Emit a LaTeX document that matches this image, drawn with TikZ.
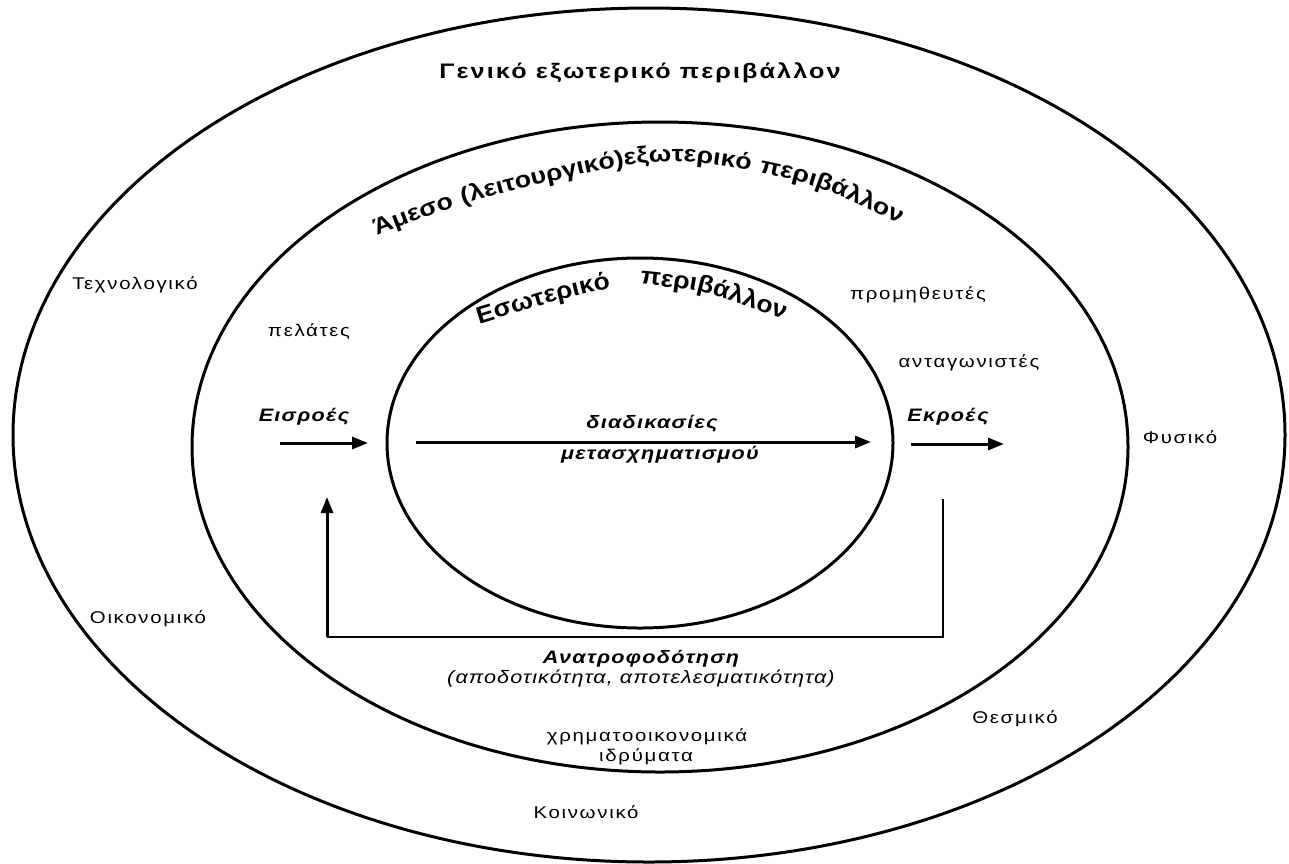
\documentclass[tikz,border=0pt]{standalone}
\usepackage{fontspec}
\setmainfont{Liberation Sans}
\newfontfamily\lblfont[FakeStretch=1.2, LetterSpace=10]{Liberation Sans}
\newfontfamily\bifont[FakeStretch=1.2, LetterSpace=7]{Liberation Sans}
\newfontfamily\itfont[FakeStretch=1.2, LetterSpace=6]{Liberation Sans}
\newfontfamily\gfont[FakeStretch=1.2, LetterSpace=10]{Liberation Sans}
\newfontfamily\arcfont[FakeStretch=1.1, LetterSpace=3]{Liberation Sans}
\newfontfamily\midarcfont[FakeStretch=1.16, LetterSpace=6]{Liberation Sans}
\usetikzlibrary{shapes.geometric,arrows.meta,decorations.text}
\tikzset{
  ring/.style={ellipse, draw, line width=3pt, inner sep=0pt},
  lbl/.style={font=\lblfont\fontsize{17}{20}\selectfont, inner sep=0pt, anchor=base},
  blbl/.style={font=\bifont\bfseries\itshape\fontsize{18}{21}\selectfont, inner sep=0pt, anchor=base},
  ilbl/.style={font=\itfont\itshape\fontsize{18}{21}\selectfont, inner sep=0pt, anchor=base},
  flow/.style={line width=3pt, -{Triangle[length=16pt,width=12pt]}},
  fbline/.style={line width=1.5pt},
}
\begin{document}
\begin{tikzpicture}[x=1pt,y=-1pt]
\useasboundingbox (0,0) rectangle (1289,863);
% rings
\node[ring, minimum width=1272pt, minimum height=854pt] (outer) at (649,435) {};
\node[ring, minimum width=936pt, minimum height=650pt] (middle) at (660,447) {};
\node[ring, minimum width=506pt, minimum height=370pt] (inner) at (640,443) {};
% curved titles
\path[decorate, decoration={text along path, text align=left,
  text={|\midarcfont\bfseries\fontsize{23}{26}\selectfont|Άμεσο (λειτουργικό)εξωτερικό περιβάλλον}}]
  plot[smooth] coordinates {(377,236) (470,202) (617,167) (700,163) (810,185) (905,226) (960,256) (1000,285)};
\path[decorate, decoration={text along path, text align=left,
  text={|\arcfont\bfseries\fontsize{24}{28}\selectfont|Εσωτερικό}}]
  plot[smooth] coordinates {(479,324) (560,300) (630,286) (700,290) (760,311)};
\path[decorate, decoration={text along path, text align=left,
  text={|\arcfont\bfseries\fontsize{24}{28}\selectfont|περιβάλλον}}]
  plot[smooth] coordinates {(640,284) (700,292) (760,311) (810,330) (850,352) (880,375)};
% title
\node[font=\gfont\bfseries\fontsize{21}{24}\selectfont, inner sep=0pt, anchor=base] (gen) at (640,78) {Γενικό εξωτερικό περιβάλλον};
% labels
\node[lbl] (tech) at (135,289) {Τεχνολογικό};
\node[lbl] (pel) at (309,336) {πελάτες};
\node[lbl] (prom) at (918,299) {προμηθευτές};
\node[lbl] (antag) at (969,367) {ανταγωνιστές};
\node[lbl] (fys) at (1180,443) {Φυσικό};
\node[lbl] (oik) at (148,623) {Οικονομικό};
\node[lbl] (thes) at (1015,723) {Θεσμικό};
\node[lbl] (xrim) at (647,741) {χρηματοοικονομικά};
\node[lbl] (idr) at (646,761) {ιδρύματα};
\node[lbl] (koin) at (586,818) {Κοινωνικό};
\node[blbl] (eis) at (304,421) {Εισροές};
\node[blbl] (ekr) at (948,421) {Εκροές};
\node[blbl] (diad) at (652,428) {διαδικασίες};
\node[blbl] (metas) at (660,459) {μετασχηματισμού};
\node[blbl] (anat) at (641,663) {Ανατροφοδότηση};
\node[ilbl] (apod) at (641,683) {(αποδοτικότητα, αποτελεσματικότητα)};
% flows
\coordinate (in1) at (280,443); \coordinate (in2) at (368,443);
\coordinate (pr1) at (416,442); \coordinate (pr2) at (871,442);
\coordinate (out1) at (911,444); \coordinate (out2) at (1004,444);
\draw[flow] (in1) -- (in2);
\draw[flow] (pr1) -- (pr2);
\draw[flow] (out1) -- (out2);
% feedback loop
\coordinate (fbR) at (943,499);
\coordinate (fbC) at (327,637);
\coordinate (fbL) at (327,497);
\draw[fbline] (fbR) |- (fbC);
\draw[flow] (fbC) -- (fbL);
\end{tikzpicture}
\end{document}
